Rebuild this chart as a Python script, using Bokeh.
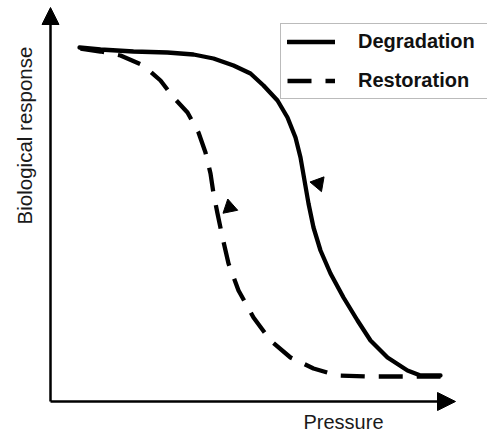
import math
from bokeh.plotting import figure
from bokeh.models import Range1d, Arrow, NormalHead, Label, Legend, LegendItem, ColumnDataSource
from bokeh.embed import file_html
from bokeh.resources import INLINE

# Schematic data (arbitrary units: pressure along x, biological response along y)
deg_pressure = [29, 50, 83, 117, 143, 163, 183, 200, 213, 227, 237, 245, 250, 254, 258,
                263, 270, 280, 293, 307, 320, 337, 357, 370, 390]
deg_response = [353, 351, 349, 348, 346, 342, 335, 327, 315, 300, 283, 263, 243, 220, 197,
                 173, 150, 127, 103, 80, 60, 43, 30, 25, 25]

res_pressure = [30, 50, 70, 93, 110, 123, 137, 148, 155, 160, 163, 167, 172, 178, 188,
                203, 220, 240, 263, 287, 317, 350, 390]
res_response = [352, 349, 345, 335, 320, 303, 288, 268, 248, 227, 207, 187, 163, 137, 110,
                83, 60, 43, 32, 25, 24, 24, 24]

# direction markers on the curves
deg_arrow = dict(x=[268], y=[217], angle=[math.pi + 0.35])
res_arrow = dict(x=[179], y=[193], angle=[0.2])

series_labels = ["Degradation", "Restoration"]
x_label = "Pressure"
y_label = "Biological response"

FONT = "Liberation Sans"

p = figure(width=487, height=434, output_backend="svg", toolbar_location=None,
           x_range=Range1d(-50, 437), y_range=Range1d(-34, 400),
           x_axis_type=None, y_axis_type=None, min_border=0,
           outline_line_color=None, background_fill_color="white")
p.grid.visible = False

r_deg = p.line(deg_pressure, deg_response, line_color="black", line_width=4.3,
               line_join="round", line_cap="round")
r_res = p.line(res_pressure, res_response, line_color="black", line_width=4.3,
               line_dash="24 14", line_join="round")

p.scatter(x="x", y="y", angle="angle", source=ColumnDataSource(deg_arrow),
          marker="triangle", size=15, fill_color="black", line_color="black")
p.scatter(x="x", y="y", angle="angle", source=ColumnDataSource(res_arrow),
          marker="triangle", size=15, fill_color="black", line_color="black")

# axes with arrow heads
p.add_layout(Arrow(end=NormalHead(size=17, fill_color="black", line_color="black"),
                   x_start=0, y_start=-1, x_end=0, y_end=393,
                   line_width=2.5, line_color="black"))
p.add_layout(Arrow(end=NormalHead(size=18, fill_color="black", line_color="black"),
                   x_start=0, y_start=-1, x_end=405, y_end=-1,
                   line_width=2.5, line_color="black"))

p.add_layout(Label(x=293, y=-10, text=x_label, text_align="center",
                   text_baseline="top", text_font=FONT,
                   text_font_size="20px", text_color="#1a1a1a"))
p.add_layout(Label(x=-26, y=265, text=y_label, text_align="center",
                   text_baseline="middle", angle=math.pi / 2, text_font=FONT,
                   text_font_size="20.5px", text_color="#1a1a1a"))

legend = Legend(items=[LegendItem(label=series_labels[0], renderers=[r_deg]),
                       LegendItem(label=series_labels[1], renderers=[r_res])],
                location=(280, 335), orientation="vertical",
                padding=6, spacing=16, margin=0,
                glyph_width=48, glyph_height=23, label_height=23,
                label_width=130, label_standoff=23,
                label_text_font=FONT, label_text_font_size="20px",
                label_text_font_style="bold", label_text_color="#111111",
                border_line_color="#777777", border_line_width=1.5,
                background_fill_color="white", background_fill_alpha=1.0)
p.add_layout(legend)

open("out.html", "w").write(file_html(p, INLINE))
